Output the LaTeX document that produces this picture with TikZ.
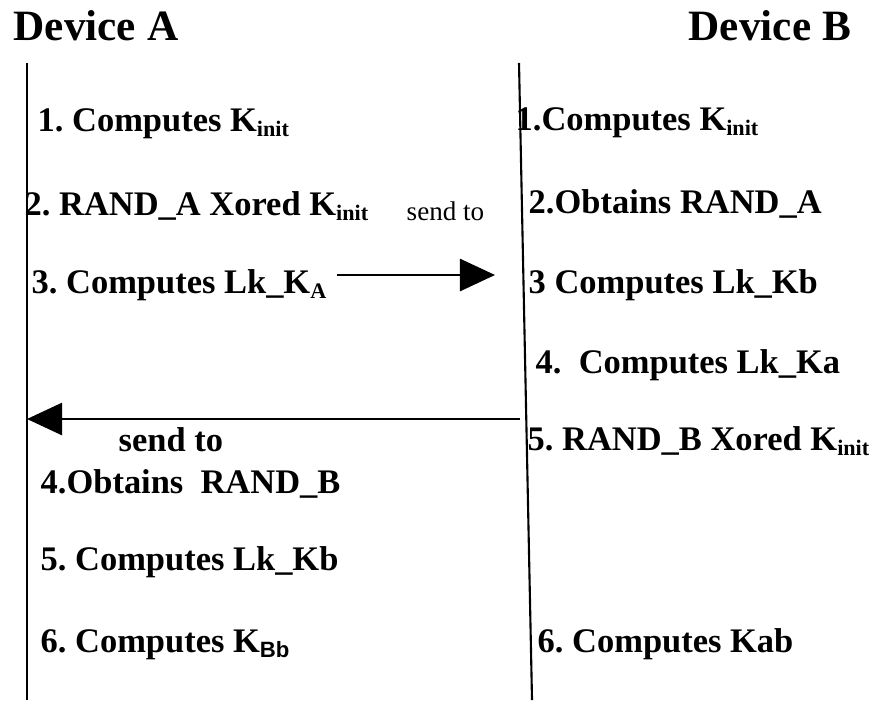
\documentclass[tikz,border=0pt]{standalone}
\usepackage{fontspec}
\setmainfont{Liberation Serif}
\newfontfamily\arialfont{Liberation Sans}
\usetikzlibrary{arrows.meta}
\frenchspacing
\newcommand{\lowsub}[1]{\raisebox{-1.5pt}{\fontsize{6.3}{7}\selectfont #1}}

\begin{document}
\begin{tikzpicture}[
      x=0.01cm,
      y=-0.01cm,
      >={Triangle[length=0.35cm,width=0.32cm]},
      device/.style={
        anchor=base west,
        inner sep=0pt,
        font=\fontsize{12.3}{14}\selectfont\bfseries
      },
      msg/.style={
        anchor=base west,
        inner sep=0pt,
        font=\fontsize{9.8}{12}\selectfont\bfseries
      },
      note/.style={
        anchor=base west,
        inner sep=0pt,
        font=\fontsize{7.7}{9}\selectfont
      },
      lifeline/.style={
        line width=0.6pt
      },
      projection/.style={
        ->,
        line width=0.75pt
      }
    ]
      \useasboundingbox (0,0) rectangle (874,700);

      \node[device] (devA) at (13,40) {Device A};
      \node[device] (devB) at (688,40) {Device B};

      \coordinate (laTop) at (27,63);
      \coordinate (laBot) at (27,700);
      \coordinate (lbTop) at (519,63);
      \coordinate (lbBot) at (532,700);
      \draw[lifeline] (laTop) -- (laBot);
      \draw[lifeline] (lbTop) -- (lbBot);

      \foreach \i/\x/\y/\l in {1/37/131/{1. Computes K\lowsub{init}},
          2/24/215/{2. RAND\_A Xored K\lowsub{init}},
          3/31/293/{3. Computes Lk\_K\lowsub{A}},
          4/40/493/{4.Obtains\ \ RAND\_B},
          5/40/570/{5. Computes Lk\_Kb},
          6/40/652/{6. Computes K\lowsub{\arialfont Bb}}}
        \node[msg] (a\i) at (\x,\y) {\l};

      \foreach \i/\x/\y/\l in {1/515/130/{1.Computes K\lowsub{init}},
          2/528/213/{2.Obtains RAND\_A},
          3/528/293/{3 Computes Lk\_Kb},
          4/535/373/{4.\ \ Computes Lk\_Ka},
          5/527/450/{5. RAND\_B Xored K\lowsub{init}},
          6/537/652/{6. Computes Kab}}
        \node[msg] (b\i) at (\x,\y) {\l};

      \node[note] (sendAB) at (406,220) {send to};
      \node[msg] (sendBA) at (118,451) {send to};

      \coordinate (tAB) at (337,275);
      \coordinate (hAB) at (495,275);
      \coordinate (tBA) at (520,419);
      \coordinate (hBA) at (27,419);
      \draw[projection] (tAB) -- (hAB);
      \draw[projection] (tBA) -- (hBA);
    \end{tikzpicture}
\end{document}
